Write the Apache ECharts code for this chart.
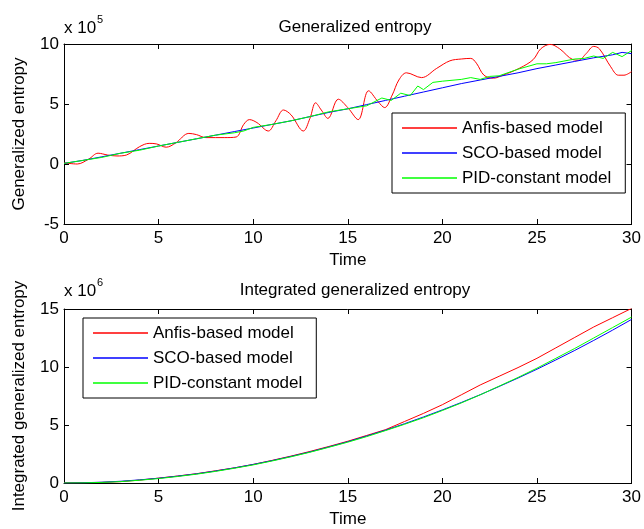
<!DOCTYPE html>
<html>
<head>
<meta charset="utf-8">
<script src="https://cdn.jsdelivr.net/npm/echarts@6/dist/echarts.min.js"></script>
<style>
  body { margin: 0; background: #fff; }
  #chart { width: 644px; height: 529px; }
</style>
</head>
<body>
<div id="chart"></div>
<script>
// top plot, values in units of 1e5
const redT = [0, 0.7, 1.3, 1.8, 2.3, 2.8, 3.3, 4.0, 4.5, 4.9, 5.4, 5.9, 6.6, 7.0, 7.5, 8.5, 9.1, 9.5, 9.8, 10.2,
  10.8, 11.2, 11.6, 12.0, 12.65, 13.0, 13.3, 13.6, 13.95, 14.5, 15.0, 15.55, 16.1, 16.6, 16.95, 17.35, 17.7, 18.1,
  18.9, 19.7, 20.4, 21.0, 21.5, 21.8, 22.2, 22.7, 23.2, 24.1, 24.8, 25.2, 25.7, 26.2, 26.9, 27.2, 27.6, 28.0, 28.3,
  28.9, 29.3, 29.6, 30];
const redV = [0.1, 0.0, 0.4, 0.9, 0.75, 0.67, 0.75, 1.45, 1.72, 1.67, 1.4, 1.75, 2.55, 2.45, 2.2, 2.2, 2.25, 3.3, 3.7, 3.45,
  2.75, 3.6, 4.5, 4.1, 2.75, 3.8, 5.1, 4.5, 3.8, 5.4, 4.7, 3.7, 6.1, 5.2, 4.7, 5.75, 7.0, 7.6,
  7.2, 7.97, 8.6, 8.75, 8.8, 8.4, 7.4, 7.15, 7.4, 8.0, 8.7, 9.6, 9.97, 9.6, 8.7, 8.65, 9.2, 9.8, 9.6,
  8.1, 7.4, 7.4, 7.7];
const blueT = [0, 1, 2, 3, 4, 5, 6, 7, 8, 9, 10, 11, 12, 13, 14, 15, 16, 17, 18, 19, 20, 21, 22, 23, 24, 25, 26, 27, 28, 29, 29.5, 30];
const blueV = [0.05, 0.3, 0.6, 0.9, 1.2, 1.5, 1.8, 2.1, 2.4, 2.7, 3.0, 3.3, 3.6, 3.95, 4.3, 4.6, 4.95, 5.3, 5.65, 6.0,
  6.35, 6.7, 7.0, 7.3, 7.6, 7.95, 8.25, 8.55, 8.85, 9.1, 9.3, 9.2];
const greenT = [0, 1, 2, 3, 4, 5, 6, 7, 8, 9, 9.5, 10, 11, 12, 13, 14, 15, 16, 16.8, 17.3, 17.8, 18.3, 18.7, 19.0, 19.5,
  20, 21, 21.5, 22, 22.5, 23, 24, 25, 25.5, 26, 27, 27.5, 28, 28.5, 29, 29.5, 30];
const greenV = [0.05, 0.3, 0.55, 0.9, 1.15, 1.5, 1.8, 2.1, 2.4, 2.6, 2.75, 3.05, 3.3, 3.6, 3.95, 4.35, 4.6, 4.85, 5.5, 5.3, 5.9, 5.7, 6.5, 6.2, 6.8,
  6.9, 7.05, 7.2, 7.05, 7.3, 7.35, 7.9, 8.35, 8.35, 8.45, 8.75, 8.8, 9.0, 8.8, 9.3, 8.95, 9.45];

// bottom plot, values in units of 1e6
const intT = [0, 1, 2, 3, 4, 5, 6, 7, 8, 9, 10, 11, 12, 13, 14, 15, 16, 17, 18, 19, 20, 21, 22, 23, 24, 25, 26, 27, 28, 29, 30];
const intRed = [0.02, 0.03, 0.05, 0.12, 0.25, 0.42, 0.6, 0.8, 1.05, 1.3, 1.6, 1.95, 2.32, 2.72, 3.15, 3.6, 4.1, 4.6, 5.3, 6.0,
  6.75, 7.6, 8.45, 9.2, 9.95, 10.75, 11.65, 12.55, 13.45, 14.25, 15.05];
const intBlue = [0.0, 0.02, 0.07, 0.15, 0.27, 0.41, 0.59, 0.79, 1.03, 1.3, 1.6, 1.93, 2.29, 2.68, 3.11, 3.56, 4.05, 4.56, 5.11, 5.69,
  6.3, 6.94, 7.61, 8.32, 9.05, 9.81, 10.61, 11.43, 12.29, 13.18, 14.1];
const intGreen = [0.0, 0.01, 0.05, 0.12, 0.24, 0.38, 0.56, 0.76, 1.0, 1.27, 1.56, 1.9, 2.26, 2.65, 3.08, 3.52, 4.0, 4.52, 5.06, 5.63,
  6.25, 6.9, 7.6, 8.35, 9.1, 9.9, 10.75, 11.6, 12.5, 13.4, 14.3];

const names = ['Anfis-based model', 'SCO-based model', 'PID-constant model'];
const colors = ['#ff0000', '#0000ff', '#00ff00'];
const xTicks = [0, 30, 5];

const FONT = 'Liberation Sans';
const pair = (ts, vs) => ts.map((t, i) => [t, vs[i]]);

function xAxes(grid) {
  return [{
    type: 'value', gridIndex: grid, min: xTicks[0], max: xTicks[1], interval: xTicks[2],
    name: 'Time', nameLocation: 'middle', nameGap: 28,
    nameTextStyle: { color: '#000', fontSize: 17, fontFamily: FONT },
    axisLine: { onZero: false, lineStyle: { color: '#000', width: 1 } },
    axisTick: { inside: true, length: 5, lineStyle: { color: '#000' } },
    axisLabel: { color: '#000', fontSize: 17, fontFamily: FONT, margin: 6 },
    splitLine: { show: false }
  }, {
    type: 'value', gridIndex: grid, position: 'top', min: xTicks[0], max: xTicks[1], interval: xTicks[2],
    axisLine: { onZero: false, lineStyle: { color: '#000', width: 1 } },
    axisTick: { inside: true, length: 5, lineStyle: { color: '#000' } },
    axisLabel: { show: false },
    splitLine: { show: false }
  }];
}

function yAxes(grid, name, min, max, step) {
  return [{
    type: 'value', gridIndex: grid, min: min, max: max, interval: step,
    name: name, nameLocation: 'middle', nameGap: 36,
    nameTextStyle: { color: '#000', fontSize: 17, fontFamily: FONT },
    axisLine: { show: true, onZero: false, lineStyle: { color: '#000', width: 1 } },
    axisTick: { show: true, inside: true, length: 5, lineStyle: { color: '#000' } },
    axisLabel: { color: '#000', fontSize: 17, fontFamily: FONT, margin: 5 },
    splitLine: { show: false }
  }, {
    type: 'value', gridIndex: grid, position: 'right', min: min, max: max, interval: step,
    axisLine: { show: true, onZero: false, lineStyle: { color: '#000', width: 1 } },
    axisTick: { show: true, inside: true, length: 5, lineStyle: { color: '#000' } },
    axisLabel: { show: false },
    splitLine: { show: false }
  }];
}

function line(name, color, data, xi, yi, smooth) {
  return {
    type: 'line', name: name, data: data, xAxisIndex: xi, yAxisIndex: yi,
    showSymbol: false, symbol: 'none', smooth: smooth, clip: true,
    lineStyle: { color: color, width: 1 }, itemStyle: { color: color }
  };
}

function legend(left, top) {
  return {
    orient: 'vertical', left: left, top: top, data: names,
    icon: 'rect', itemWidth: 55, itemHeight: 1.5, itemGap: 5,
    padding: [5, 14, 5, 10],
    backgroundColor: '#fff', borderColor: '#000', borderWidth: 1, borderRadius: 0,
    textStyle: { color: '#000', fontSize: 17, fontFamily: FONT, lineHeight: 20 }
  };
}

const option = {
  animation: false,
  backgroundColor: '#fff',
  title: [
    { text: 'Generalized entropy', left: 350, top: 14, textAlign: 'center',
      textStyle: { color: '#000', fontSize: 17, fontWeight: 'normal', fontFamily: FONT } },
    { text: 'x 10', left: 64, top: 20, padding: 0,
      textStyle: { color: '#000', fontSize: 17, fontWeight: 'normal', fontFamily: FONT } },
    { text: '5', left: 97, top: 14, padding: 0,
      textStyle: { color: '#000', fontSize: 11, fontWeight: 'normal', fontFamily: FONT } },
    { text: 'Integrated generalized entropy', left: 350, top: 277, textAlign: 'center',
      textStyle: { color: '#000', fontSize: 17, fontWeight: 'normal', fontFamily: FONT } },
    { text: 'x 10', left: 64, top: 283, padding: 0,
      textStyle: { color: '#000', fontSize: 17, fontWeight: 'normal', fontFamily: FONT } },
    { text: '6', left: 97, top: 277, padding: 0,
      textStyle: { color: '#000', fontSize: 11, fontWeight: 'normal', fontFamily: FONT } }
  ],
  grid: [
    { left: 64, right: 8, top: 44, height: 180 },
    { left: 64, right: 8, top: 309, height: 177 }
  ],
  xAxis: [...xAxes(0), ...xAxes(1)],
  yAxis: [...yAxes(0, 'Generalized entropy', -5, 10, 5), ...yAxes(1, 'Integrated generalized entropy', 0, 15, 5)],
  legend: [legend(392, 113), legend(83, 318)],
  series: [
    line(names[0], colors[0], pair(redT, redV), 0, 0, 0.35),
    line(names[1], colors[1], pair(blueT, blueV), 0, 0, false),
    line(names[2], colors[2], pair(greenT, greenV), 0, 0, false),
    line(names[0], colors[0], pair(intT, intRed), 2, 2, false),
    line(names[1], colors[1], pair(intT, intBlue), 2, 2, false),
    line(names[2], colors[2], pair(intT, intGreen), 2, 2, false)
  ]
};

echarts.init(document.getElementById('chart'), null, { renderer: 'canvas' }).setOption(option);
</script>
</body>
</html>
